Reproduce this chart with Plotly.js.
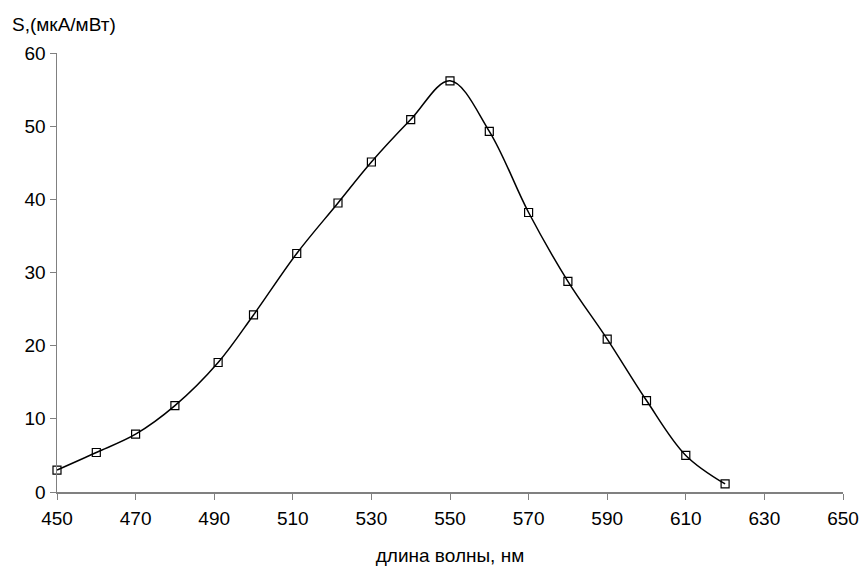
<!DOCTYPE html>
<html>
<head>
<meta charset="utf-8">
<script src="https://cdn.plot.ly/plotly-3.0.1.min.js"></script>
<style>html,body{margin:0;padding:0;background:#fff;}#chart{width:860px;height:566px;}</style>
</head>
<body>
<div id="chart"></div>
<script>
const wavelength = [450, 460, 470, 480, 491, 500, 511, 521.5, 530, 540, 550, 560, 570, 580, 590, 600, 610, 620];
const sensitivity = [3.0, 5.4, 7.9, 11.8, 17.7, 24.2, 32.6, 39.5, 45.1, 50.9, 56.2, 49.3, 38.2, 28.8, 20.9, 12.5, 5.0, 1.1];
const xTicks = [450, 470, 490, 510, 530, 550, 570, 590, 610, 630, 650];
const yTicks = [0, 10, 20, 30, 40, 50, 60];
const xTitle = 'длина волны, нм';
const yTitle = 'S,(мкА/мВт)';

const trace = {
  x: wavelength,
  y: sensitivity,
  mode: 'lines+markers',
  type: 'scatter',
  line: {color: '#000', width: 1.5, shape: 'spline', smoothing: 1},
  marker: {symbol: 'square-open', size: 8, color: '#000', line: {width: 1.2, color: '#000'}},
  cliponaxis: false
};

const font = {family: 'Liberation Sans, Arial, sans-serif', size: 19, color: '#000'};

const layout = {
  width: 860, height: 566,
  margin: {l: 57, r: 17, t: 53, b: 74},
  paper_bgcolor: '#fff', plot_bgcolor: '#fff',
  showlegend: false,
  font: font,
  xaxis: {
    range: [450, 650], tickvals: xTicks, ticktext: xTicks.map(String),
    showgrid: false, zeroline: false, showline: true, linecolor: '#808080', linewidth: 1.5,
    ticks: 'outside', ticklen: 6, tickcolor: '#808080', tickwidth: 1,
    tickfont: font, ticklabelstandoff: 3,
    title: {text: xTitle, font: font, standoff: 20}
  },
  yaxis: {
    range: [0, 60], tickvals: yTicks, ticktext: yTicks.map(String),
    showgrid: false, zeroline: false, showline: true, linecolor: '#808080', linewidth: 1.5,
    ticks: 'outside', ticklen: 6, tickcolor: '#808080', tickwidth: 1,
    tickfont: font
  },
  annotations: [{
    text: yTitle, xref: 'paper', yref: 'paper', x: 0, y: 1,
    xanchor: 'left', yanchor: 'bottom', xshift: -47, yshift: 16,
    showarrow: false, font: font
  }]
};

Plotly.newPlot('chart', [trace], layout, {displayModeBar: false, staticPlot: true});
</script>
</body>
</html>
